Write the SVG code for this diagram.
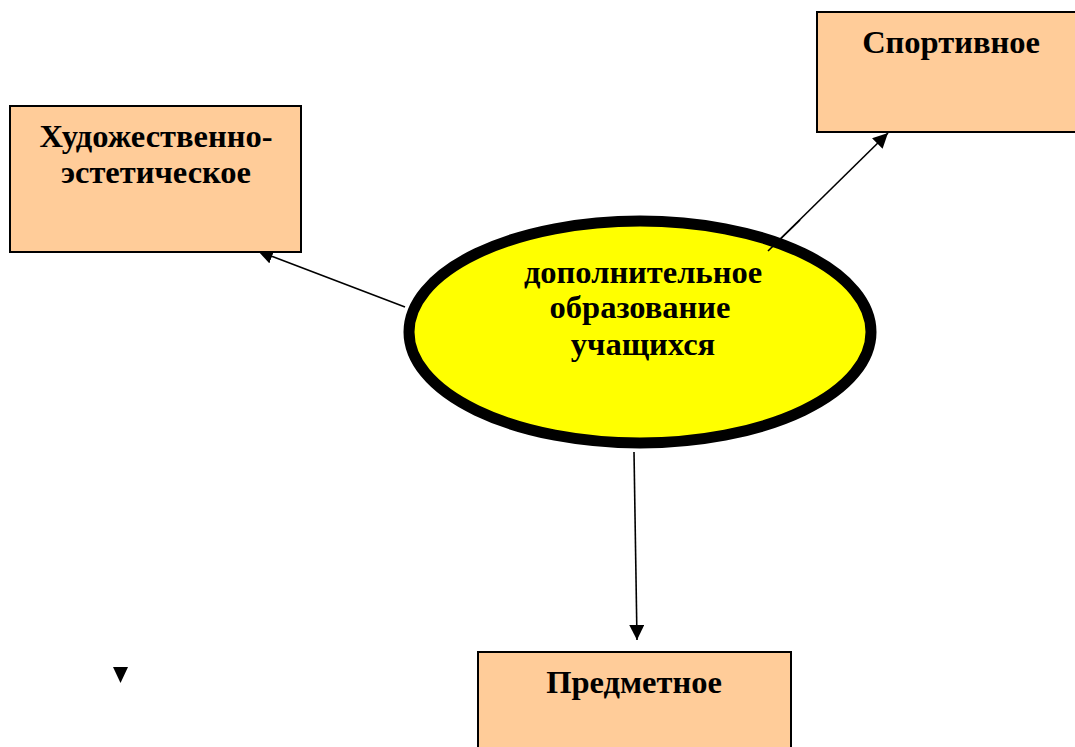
<svg xmlns="http://www.w3.org/2000/svg" width="1075" height="747" viewBox="0 0 1075 747">
<style>
.box{fill:#FFCC99;stroke:#000;stroke-width:2}
.t{font-family:"Liberation Serif","Times New Roman",serif;font-weight:bold;font-size:32.5px;fill:#000;text-anchor:middle}
.c{stroke:#000;stroke-width:1.6;fill:none;marker-end:url(#ah)}
</style>
<defs>
<marker id="ah" markerWidth="15" markerHeight="15" refX="15" refY="7.5" orient="auto" markerUnits="userSpaceOnUse" viewBox="0 0 15 15">
<path d="M0,0 L15,7.5 L0,15 Z" fill="#000"/>
</marker>
</defs>
<rect width="1075" height="747" fill="#fff"/>
<g id="connectors">
<line class="c" x1="405" y1="307" x2="258" y2="251"/>
<line class="c" x1="768" y1="251" x2="888" y2="133"/>
<line class="c" x1="634" y1="452" x2="637" y2="640"/>
</g>
<g id="node-art">
<rect class="box" x="10" y="106" width="291" height="146"/>
<text class="t" x="156" y="147">Художественно-</text>
<text class="t" x="156" y="183">эстетическое</text>
</g>
<g id="node-sport">
<rect class="box" x="817" y="12" width="270" height="120"/>
<text class="t" x="951" y="53">Спортивное</text>
</g>
<g id="node-center">
<ellipse cx="640" cy="332" rx="231" ry="111" fill="#FFFF00" stroke="#000" stroke-width="11"/>
<text class="t" x="643" y="283">дополнительное</text>
<text class="t" x="640" y="318">образование</text>
<text class="t" x="643" y="355">учащихся</text>
</g>
<g id="node-subject">
<rect class="box" x="478" y="652" width="313" height="110"/>
<text class="t" x="634" y="693">Предметное</text>
</g>
<g id="connectors-front">
<line x1="768" y1="251" x2="800" y2="220" stroke="#000" stroke-width="1.6"/>
</g>
<path d="M113,667 L128,667 L120.5,683 Z" fill="#000"/>
</svg>
